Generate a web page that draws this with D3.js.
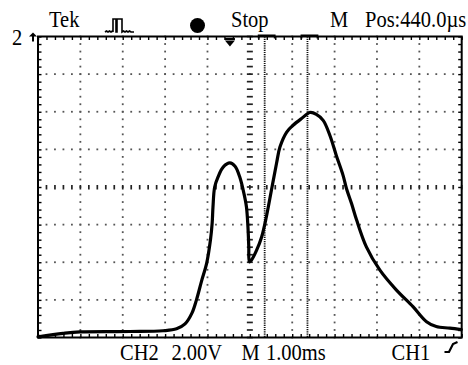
<!DOCTYPE html>
<html><head><meta charset="utf-8">
<script src="https://cdn.jsdelivr.net/npm/d3@7"></script>
<style>body{margin:0;background:#fff}svg{display:block}</style>
</head><body>
<script>
// time in ms (1 ms/div), signal in divisions (2 V/div) from screen centre
const timeMs = [0,0.59,0.99,2.17,2.95,3.27,3.47,3.63,3.74,3.86,3.98,4.07,4.11,4.13,4.17,4.25,4.37,4.53,4.65,4.76,4.86,4.92,4.955,4.975,4.99,5.04,5.16,5.28,5.39,5.51,5.63,5.71,5.87,6.02,6.22,6.42,6.57,6.73,6.89,7.04,7.20,7.28,7.40,7.52,7.75,8.07,8.46,8.85,9.17,9.40,9.72,9.99];
const signalDiv = [-3.98,-3.89,-3.85,-3.84,-3.82,-3.77,-3.64,-3.36,-3.00,-2.50,-2.03,-1.41,-0.97,-0.53,0.00,0.27,0.53,0.64,0.55,0.27,-0.17,-0.53,-1.06,-1.59,-1.99,-1.94,-1.68,-1.32,-0.79,-0.08,0.63,1.06,1.46,1.64,1.82,1.98,1.93,1.77,1.37,0.84,0.31,-0.04,-0.44,-0.88,-1.59,-2.21,-2.74,-3.18,-3.58,-3.71,-3.75,-3.79];
const cursorsMs = [5.35, 6.36];
const triggerMs = 4.53;
const headerLabels = ["Tek", "Stop", "M", "Pos:440.0\u00b5s"];
const footerLabels = ["CH2", "2.00V", "M", "1.00ms", "CH1"];
const channelLabel = "2";

const W = 468, H = 365;
const L = 38, R = 461.7, T = 36.5, B = 337.5;
const svg = d3.select("body").append("svg").attr("width", W).attr("height", H)
  .style("font-family", "'Liberation Serif','Times New Roman',serif");
svg.append("rect").attr("width", W).attr("height", H).attr("fill", "#fff");

const x = d3.scaleLinear().domain([0, 10]).range([L, R]);
const y = d3.scaleLinear().domain([-4, 4]).range([B, T]);

const minor = d3.range(0, 50.5, 1).map(i => i / 5);
const minorY = d3.range(-20, 20.5, 1).map(i => i / 5);

// grid dots
const g = svg.append("g").attr("fill", "#555");
for (let i = 1; i <= 9; i++) {
  if (i === 5) continue;
  minorY.forEach(v => g.append("rect").attr("x", x(i) - 0.9).attr("y", y(v) - 0.9).attr("width", 1.8).attr("height", 1.8));
}
for (let j = -3; j <= 3; j++) {
  if (j === 0) continue;
  minor.forEach(t => g.append("rect").attr("x", x(t) - 0.9).attr("y", y(j) - 0.9).attr("width", 1.8).attr("height", 1.8));
}

// centre cross ticks
const c = svg.append("g").attr("stroke", "#222").attr("stroke-width", 1.7);
minor.forEach(t => c.append("line").attr("x1", x(t)).attr("x2", x(t)).attr("y1", y(0) - 2).attr("y2", y(0) + 2.5));
minorY.forEach(v => c.append("line").attr("x1", x(5) - 3).attr("x2", x(5) + 3).attr("y1", y(v)).attr("y2", y(v)));

// border ticks via axes
const tk = (axis, tr) => {
  const a = svg.append("g").attr("transform", tr).call(axis);
  a.select(".domain").remove();
  a.selectAll("line").attr("stroke", "#000").attr("stroke-width", 1.4);
  a.selectAll("text").remove();
};
tk(d3.axisBottom(x).tickValues(minor).tickSize(3.5).tickFormat(""), `translate(0,${T})`);
tk(d3.axisTop(x).tickValues(minor).tickSize(3.5).tickFormat(""), `translate(0,${B})`);
tk(d3.axisRight(y).tickValues(minorY).tickSize(3.5).tickFormat(""), `translate(${L},0)`);
tk(d3.axisLeft(y).tickValues(minorY).tickSize(3.5).tickFormat(""), `translate(${R},0)`);

// frame
svg.append("rect").attr("x", L).attr("y", T).attr("width", R - L).attr("height", B - T)
  .attr("fill", "none").attr("stroke", "#000").attr("stroke-width", 2);

// cursors
cursorsMs.forEach(t => {
  svg.append("line").attr("x1", x(t)).attr("x2", x(t)).attr("y1", T).attr("y2", B)
    .attr("stroke", "#111").attr("stroke-width", 1.8).attr("stroke-dasharray", "1.2,1");
  svg.append("path").attr("d", `M${x(t) - 6},${T + 2}L${x(t) - 6},${T - 1}L${x(t) + 10},${T - 1}L${x(t) + 10},${T + 2}`)
    .attr("fill", "none").attr("stroke", "#000").attr("stroke-width", 1.8);
});

// trace
const line = d3.line().x((d, i) => x(timeMs[i])).y((d, i) => y(signalDiv[i])).curve(d3.curveCatmullRom.alpha(0.5));
svg.append("path").attr("d", line(timeMs)).attr("fill", "none").attr("stroke", "#000")
  .attr("stroke-width", 3.2).attr("stroke-linejoin", "round").attr("stroke-linecap", "round");

// trigger position marker
const tx = x(triggerMs);
svg.append("line").attr("x1", tx - 5).attr("x2", tx + 5).attr("y1", T + 2.5).attr("y2", T + 2.5).attr("stroke", "#000").attr("stroke-width", 2);
svg.append("path").attr("d", `M${tx - 5},${T + 4}L${tx + 5},${T + 4}L${tx},${T + 10}Z`).attr("fill", "#000");

// text helper (slightly tall glyphs like the scope's font)
const txt = (s, px, py) => svg.append("text").attr("transform", `translate(${px},${py}) scale(1,1.1)`)
  .attr("font-size", 20.5).text(s);

// channel ground marker
txt(channelLabel, 12, 44.5);
svg.append("path").attr("d", `M29,${T}L37,${T}L33,${T - 4}Z`).attr("fill", "#000");
svg.append("line").attr("x1", 33).attr("x2", 33).attr("y1", T - 2).attr("y2", T + 5).attr("stroke", "#000").attr("stroke-width", 2);

// header
const hx = [49, 231, 330, 365];
headerLabels.forEach((s, i) => txt(s, hx[i], 27));
svg.append("path").attr("d", "M105,32 l1.5,-1 l1.5,1 l1.5,-1 l1.5,1 l1.5,-1 L113,32 L113,19 L116,19 L116,32 L117,32 L117,19 L122,19 L122,32 l1.5,-1 l1.5,1 l1.5,-1 l1.5,1 l1.5,-1 l1.5,1 L134,32")
  .attr("fill", "none").attr("stroke", "#000").attr("stroke-width", 1.6);
svg.append("circle").attr("cx", 197.5).attr("cy", 25.5).attr("r", 7.5).attr("fill", "#000");

// footer
const fx = [120, 171.5, 241.5, 266, 391.5];
footerLabels.forEach((s, i) => txt(s, fx[i], 359.5));
svg.append("path").attr("d", "M444.5,352 L449,352 L453,344 L457.5,342").attr("fill", "none").attr("stroke", "#000").attr("stroke-width", 2.2);
</script>
</body></html>
